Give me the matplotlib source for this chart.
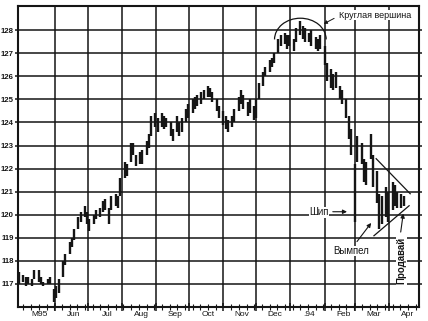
import matplotlib
matplotlib.use('Agg')
import matplotlib.pyplot as plt
import matplotlib.dates as mdates
from matplotlib.patches import Arc
import pandas as pd

plt.rcParams['font.family'] = ['Liberation Sans', 'DejaVu Sans']

INK = '#151515'

# бары: один на каждые два торговых дня, с 29 апреля 1993
lows = [
    117.0, 117.1, 116.9, 117.0, 116.9, 117.2, 117.1, 117.0, 116.9, 117.0, 117.0, 116.2,  # май
    116.4, 116.6, 117.3, 117.8, 118.3, 118.6, 118.9, 119.4, 119.7, 119.9, 119.6,  # июнь
    119.3, 119.6, 119.8, 119.9, 120.1, 120.2, 119.6, 120.2, 120.4, 120.3, 120.8,  # июль
    121.6, 121.7, 122.3, 122.6, 122.1, 122.2, 122.2, 122.6, 122.9, 123.4, 123.8,  # август
    123.6, 123.8, 123.7, 123.8, 123.4, 123.2, 123.6, 123.4, 123.6, 124.0, 124.2,  # сентябрь
    124.4, 124.6, 124.7, 124.8, 125.0, 125.1, 125.1, 124.9, 124.5, 124.2,  # октябрь
    123.9, 123.7, 123.6, 123.8, 124.0, 124.5, 124.8, 124.6, 124.3, 124.4, 124.1,  # ноябрь
    124.2, 125.0, 125.6, 126.0, 126.2, 126.4, 126.6, 127.0, 127.3, 127.4, 127.2, 127.3,  # декабрь
    127.1, 127.5, 127.8, 127.6, 127.5, 127.5, 127.3, 127.2, 127.1, 127.2,  # январь
    126.5, 125.8, 125.5, 125.4, 125.5, 125.0, 124.8, 124.2, 123.3, 122.6,  # февраль
    119.7, 122.3, 122.2, 121.4, 121.3, 122.4, 121.2, 120.5, 119.4, 119.6, 119.9, 119.7,  # март
    120.2, 120.4, 120.3, 120.3, 120.4,  # апрель
]
highs = [
    117.5, 117.4, 117.3, 117.3, 117.2, 117.6, 117.6, 117.3, 117.1, 117.2, 117.3, 116.8,
    116.9, 117.2, 118.0, 118.3, 118.8, 119.0, 119.4, 119.9, 120.1, 120.4, 120.1,
    119.8, 120.0, 120.2, 120.3, 120.6, 120.7, 120.3, 120.8, 120.9, 120.8, 121.6,
    122.3, 122.2, 123.1, 123.1, 122.6, 122.7, 122.8, 123.2, 123.5, 124.3, 124.4,
    124.2, 124.4, 124.3, 124.2, 124.0, 123.7, 124.3, 124.0, 124.2, 124.6, 124.8,
    125.0, 125.1, 125.2, 125.3, 125.4, 125.6, 125.5, 125.3, 125.0, 124.7,
    124.5, 124.3, 124.1, 124.3, 124.6, 125.1, 125.4, 125.2, 124.9, 125.0, 124.7,
    125.0, 125.7, 126.2, 126.4, 126.7, 126.8, 127.0, 127.6, 127.8, 127.9, 127.8, 127.8,
    127.6, 128.1, 128.4, 128.2, 128.1, 127.9, 128.0, 127.7, 127.6, 127.8,
    127.3, 126.6, 126.3, 126.1, 126.2, 125.6, 125.4, 125.0, 124.3, 123.7,
    122.2, 123.4, 123.1, 122.4, 122.3, 123.5, 122.6, 121.9, 120.9, 120.8, 121.2, 121.0,
    121.4, 121.3, 121.0, 120.9, 120.8,
]
bar_dates = pd.bdate_range(start='1993-04-29', periods=len(highs), freq='2B')

month_starts = pd.date_range('1993-05-01', '1994-04-01', freq='MS')
month_labels = ['M95', 'Jun', 'Jul', 'Aug', 'Sep', 'Oct', 'Nov', 'Dec', '.94', 'Feb', 'Mar', 'Apr']
price_ticks = list(range(117, 129))

# линии вымпела
pennant_top_dates = ['1994-03-20', '1994-04-20']
pennant_top = [122.43, 120.91]
pennant_bottom_dates = ['1994-03-18', '1994-04-19']
pennant_bottom = [119.09, 120.39]

fig = plt.figure(figsize=(4.28, 3.21), dpi=100)
ax = fig.add_axes([18 / 428, 14 / 321, 401 / 428, 301 / 321])

ax.vlines(bar_dates, lows, highs, color=INK, lw=1.7)

ax.set_xlim(pd.Timestamp('1993-04-28'), pd.Timestamp('1994-04-28'))
ax.set_ylim(116, 129.05)

ax.set_yticks(price_ticks)
ax.set_yticklabels([str(v) for v in price_ticks], fontsize=5.6, fontweight='bold')
ax.set_xticks(month_starts[1:])
ax.set_xticklabels([])
ax.xaxis.set_minor_locator(mdates.WeekdayLocator(byweekday=mdates.MO))
ax.tick_params(axis='y', which='major', direction='out', length=2, width=1.1,
               right=True, pad=1, colors=INK)
ax.tick_params(axis='x', which='major', direction='inout', length=6, width=1.1, colors=INK)
ax.tick_params(axis='x', which='minor', direction='inout', length=4, width=0.8, colors=INK)
ax.grid(True, which='major', color=INK, lw=1.1)
for sp in ax.spines.values():
    sp.set_linewidth(1.5)
    sp.set_color(INK)

for ms, lab in zip(month_starts, month_labels):
    ax.text(ms + pd.Timedelta(days=17), -0.014, lab, transform=ax.get_xaxis_transform(),
            ha='center', va='top', fontsize=6, color=INK)

d = mdates.date2num

# круглая вершина
ax.add_patch(Arc((d(pd.Timestamp('1994-01-10')), 127.6), width=47, height=1.84,
                 theta1=0, theta2=180, color=INK, lw=0.9))
ax.annotate('', xy=(d(pd.Timestamp('1994-01-29')), 128.22),
            xytext=(d(pd.Timestamp('1994-02-12')), 128.57),
            arrowprops=dict(arrowstyle='-|>', color=INK, lw=0.7, mutation_scale=5))
ax.text(d(pd.Timestamp('1994-02-14')), 128.65, 'Круглая вершина', fontsize=6.5,
        ha='left', va='center', color=INK,
        bbox=dict(facecolor='white', edgecolor='none', pad=0.3))

# шип
ax.text(d(pd.Timestamp('1994-01-27')), 120.1, 'Шип', fontsize=7, ha='center', va='center',
        color=INK, bbox=dict(facecolor='white', edgecolor='none', pad=0.3))
ax.annotate('', xy=(d(pd.Timestamp('1994-02-24')), 120.13),
            xytext=(d(pd.Timestamp('1994-02-06')), 120.13),
            arrowprops=dict(arrowstyle='-|>', color=INK, lw=0.8, mutation_scale=6))

# вымпел
ax.plot(pd.to_datetime(pennant_top_dates), pennant_top, color=INK, lw=0.9)
ax.plot(pd.to_datetime(pennant_bottom_dates), pennant_bottom, color=INK, lw=0.9)
ax.text(d(pd.Timestamp('1994-02-25')), 118.43, 'Вымпел', fontsize=7, ha='center', va='center',
        color=INK, bbox=dict(facecolor='white', edgecolor='none', pad=0.3))
ax.annotate('', xy=(d(pd.Timestamp('1994-03-17')), 119.74),
            xytext=(d(pd.Timestamp('1994-03-01')), 118.74),
            arrowprops=dict(arrowstyle='-|>', color=INK, lw=0.8, mutation_scale=6))

# продавай
ax.text(d(pd.Timestamp('1994-04-12')), 118.0, 'Продавай', fontsize=7, fontweight='bold',
        rotation=90, ha='center', va='center', color=INK,
        bbox=dict(facecolor='white', edgecolor='none', pad=0.3))
ax.annotate('', xy=(d(pd.Timestamp('1994-04-14')), 120.17),
            xytext=(d(pd.Timestamp('1994-04-11')), 119.13),
            arrowprops=dict(arrowstyle='-|>', color=INK, lw=0.8, mutation_scale=6))

fig.savefig('out.png', dpi=100)
